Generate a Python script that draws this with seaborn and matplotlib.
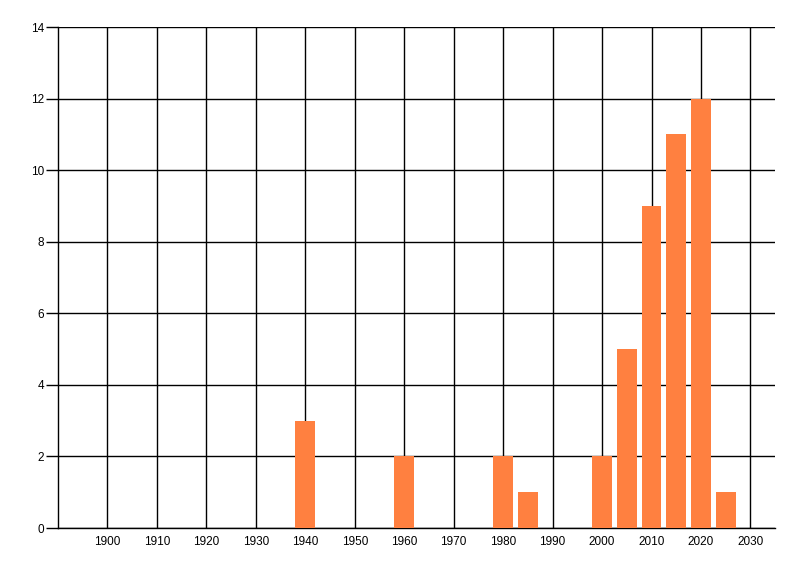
import matplotlib
matplotlib.use("Agg")
import matplotlib.pyplot as plt
import seaborn as sns

# decade counts
years = [1940, 1960, 1980, 1985, 2000, 2005, 2010, 2015, 2020, 2025]
counts = [3, 2, 2, 1, 2, 5, 9, 11, 12, 1]
x_ticks = list(range(1900, 2031, 10))
y_ticks = list(range(0, 15, 2))

sns.set_style("white")
plt.rcParams['font.family'] = ['Liberation Sans', 'DejaVu Sans']

fig = plt.figure(figsize=(8, 5.76), dpi=100)
ax = fig.add_axes([0.0725, 0.0833, 0.8965, 0.8698])

sns.barplot(x=years, y=counts, native_scale=True, color="#FF8040",
            saturation=1, width=0.8, linewidth=0, ax=ax, zorder=3)

ax.set_xlim(1890, 2035)
ax.set_ylim(0, 14)
ax.set_xticks(x_ticks)
ax.set_yticks(y_ticks)
ax.grid(True, color="black", linewidth=1, zorder=0)
ax.set_axisbelow(True)

for s in ["top", "right"]:
    ax.spines[s].set_visible(False)
for s in ["left", "bottom"]:
    ax.spines[s].set_color("black")
    ax.spines[s].set_linewidth(1)

ax.tick_params(axis="y", length=9, width=1, color="black", labelsize=8.5,
               labelcolor="black", pad=1, left=True)
ax.tick_params(axis="x", length=0, labelsize=8.5, labelcolor="black", pad=6)
ax.set_xlabel("")
ax.set_ylabel("")

fig.savefig("out.png", dpi=100)
